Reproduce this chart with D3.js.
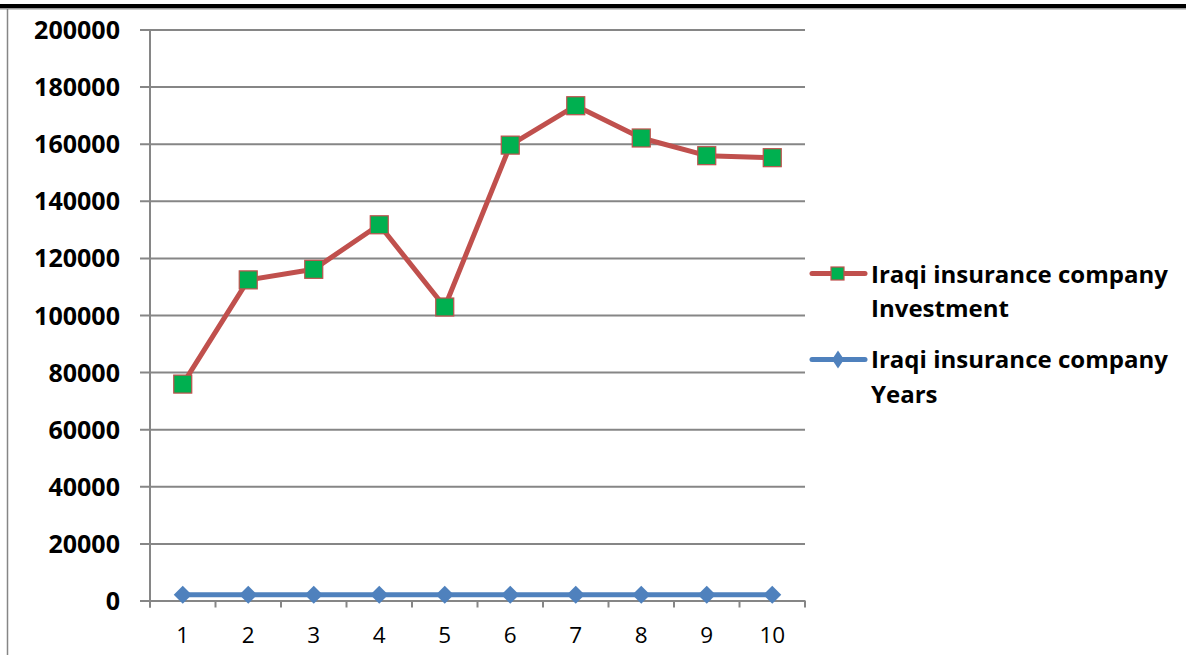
<!DOCTYPE html>
<html>
<head>
<meta charset="utf-8">
<script src="https://cdn.jsdelivr.net/npm/d3@7"></script>
<style>
  html, body { margin: 0; padding: 0; background: #ffffff; }
  svg { display: block; }
  text { font-family: "Open Sans", Lato, sans-serif; }
</style>
</head>
<body>
<svg id="chart" width="1186" height="655"></svg>
<script>
// Category labels on the horizontal axis
const categories = ["1", "2", "3", "4", "5", "6", "7", "8", "9", "10"];
// Investment of the Iraqi insurance company per period
const investment = [75800, 112300, 116000, 131600, 102800, 159500, 173300, 162000, 155800, 155100];
// Year of each period
const years = [2005, 2006, 2007, 2008, 2009, 2010, 2011, 2012, 2013, 2014];
// Value axis ticks
const yTicks = [0, 20000, 40000, 60000, 80000, 100000, 120000, 140000, 160000, 180000, 200000];
// Legend entries
const seriesNames = [
  ["Iraqi insurance company", "Investment"],
  ["Iraqi insurance company", "Years"]
];

const svg = d3.select("#chart");
const gridColor = "#868686";
const red = "#C0504D";
const blue = "#4F81BD";
const green = "#00B050";

// Font size that makes a sample string a given width
function fitSize(sample, width, weight, family) {
  const t = svg.append("text").attr("font-size", 100).attr("font-weight", weight)
    .attr("font-family", family).text(sample);
  const w = t.node().getComputedTextLength();
  t.remove();
  return 100 * width / w;
}
const family = "'Open Sans', Lato, sans-serif";
const catFamily = "Lato, 'Open Sans', sans-serif";
const valueSize = fitSize("200000", 86, "bold", family);
const catSize = 22.5;
const legendSize = fitSize("Iraqi insurance company", 297, "bold", family);

// Page rules above the chart
svg.append("rect").attr("x", 0).attr("y", 4).attr("width", 1186).attr("height", 4).attr("fill", "#000");
svg.append("rect").attr("x", 0).attr("y", 8).attr("width", 1186).attr("height", 1.5).attr("fill", "#9a9a9a");
// Chart frame, left edge
svg.append("line").attr("x1", 7.5).attr("x2", 7.5).attr("y1", 9).attr("y2", 655)
  .attr("stroke", gridColor).attr("stroke-width", 1.5);

const plotLeft = 150, plotRight = 805;
const x = d3.scaleBand().domain(categories).range([plotLeft, plotRight]).padding(0);
const y = d3.scaleLinear().domain([0, 200000]).range([600.5, 29.5]);
const cx = d => x(d) + x.bandwidth() / 2;

// Horizontal gridlines with value labels
const yAxis = d3.axisLeft(y).tickValues(yTicks).tickFormat(d3.format("d"))
  .tickSizeInner(-(plotRight - 140)).tickSizeOuter(0).tickPadding(20);
const gy = svg.append("g").attr("transform", "translate(140,0)").call(yAxis);
gy.select(".domain").remove();
gy.selectAll(".tick line").attr("stroke", gridColor).attr("stroke-width", 2);
gy.selectAll(".tick text").attr("fill", "#000").attr("font-size", valueSize).attr("font-weight", "bold")
  .attr("font-family", family).attr("dy", "0.36em");

// Vertical value axis line
svg.append("line").attr("x1", plotLeft).attr("x2", plotLeft)
  .attr("y1", y(200000)).attr("y2", y(0) + 7)
  .attr("stroke", gridColor).attr("stroke-width", 2);

// Category axis: ticks at band boundaries, labels at centres
const xAxis = d3.axisBottom(x).tickSize(0).tickPadding(0);
const gx = svg.append("g").attr("transform", `translate(0,${y(0)})`).call(xAxis);
gx.select(".domain").remove();
gx.selectAll(".tick text").attr("fill", "#000").attr("font-size", catSize)
  .attr("font-family", catFamily)
  .attr("y", 42.5).attr("dy", 0);
const bounds = categories.map(c => x(c)).concat([plotRight]);
svg.append("g").selectAll("line").data(bounds).join("line")
  .attr("x1", d => d).attr("x2", d => d)
  .attr("y1", y(0)).attr("y2", y(0) + 7)
  .attr("stroke", gridColor).attr("stroke-width", 2);

// Years series
const yearPts = categories.map((c, i) => [cx(c), y(years[i])]);
svg.append("path").datum(yearPts).attr("d", d3.line())
  .attr("fill", "none").attr("stroke", blue).attr("stroke-width", 5).attr("stroke-linejoin", "round");
const diamond = s => `M0,${-s}L${s},0L0,${s}L${-s},0Z`;
svg.append("g").selectAll("path").data(yearPts).join("path")
  .attr("transform", d => `translate(${d[0]},${d[1]})`)
  .attr("d", diamond(9)).attr("fill", blue);

// Investment series
const invPts = categories.map((c, i) => [cx(c), y(investment[i])]);
svg.append("path").datum(invPts).attr("d", d3.line())
  .attr("fill", "none").attr("stroke", red).attr("stroke-width", 5).attr("stroke-linejoin", "round");
svg.append("g").selectAll("rect").data(invPts).join("rect")
  .attr("x", d => d[0] - 9).attr("y", d => d[1] - 9)
  .attr("width", 18).attr("height", 18)
  .attr("fill", green).attr("stroke", red).attr("stroke-width", 1.2);

// Legend
const legend = svg.append("g");
const lg1 = legend.append("g");
lg1.append("line").attr("x1", 812).attr("x2", 865).attr("y1", 273.5).attr("y2", 273.5)
  .attr("stroke", red).attr("stroke-width", 5).attr("stroke-linecap", "round");
lg1.append("rect").attr("x", 831).attr("y", 267).attr("width", 13).attr("height", 13)
  .attr("fill", green).attr("stroke", red).attr("stroke-width", 1.2);
const lg2 = legend.append("g");
lg2.append("line").attr("x1", 812).attr("x2", 865).attr("y1", 359.5).attr("y2", 359.5)
  .attr("stroke", blue).attr("stroke-width", 5).attr("stroke-linecap", "round");
lg2.append("path").attr("transform", "translate(838,359.5)").attr("d", "M0,-9L6,0L0,9L-6,0Z").attr("fill", blue);

const legendBase = [[283, 317], [368, 403]];
seriesNames.forEach((lines, i) => {
  lines.forEach((t, j) => {
    legend.append("text").attr("x", 871).attr("y", legendBase[i][j])
      .attr("font-family", family)
      .attr("font-size", legendSize).attr("font-weight", "bold").attr("fill", "#000").text(t);
  });
});
</script>
</body>
</html>
